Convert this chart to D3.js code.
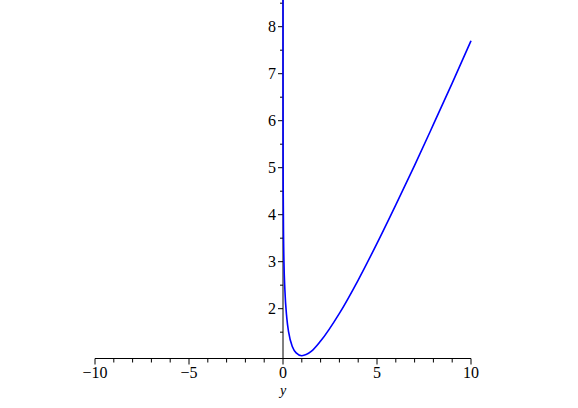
<!DOCTYPE html>
<html>
<head>
<meta charset="utf-8">
<script src="https://cdn.jsdelivr.net/npm/d3@7"></script>
<style>
  body { margin: 0; background: #fff; }
  text { font-family: "Liberation Serif", "Times New Roman", serif; }
</style>
</head>
<body>
<svg id="chart" width="578" height="408"></svg>
<script>
// values
const xs = [0.0002, 0.001, 0.005, 0.01, 0.03, 0.05, 0.1, 0.2, 0.3, 0.5, 0.7, 1, 1.5, 2, 3, 4, 5, 6, 7, 8, 9, 10];
const ys = [8.6, 6.9, 5.3, 4.6, 3.5, 3.0, 2.4, 1.81, 1.50, 1.19, 1.06, 1.0, 1.09, 1.31, 1.90, 2.61, 3.39, 4.21, 5.05, 5.92, 6.80, 7.70];
const xTicks = [-10, -5, 0, 5, 10];
const yTicks = [2, 3, 4, 5, 6, 7, 8];
const xLabel = "y";

const points = xs.map((x, i) => ({x: x, y: ys[i]}));

const svg = d3.select("#chart");

const x = d3.scaleLinear().domain([-10, 10]).range([95, 471]);
const y = d3.scaleLinear().domain([0.94, 8.6]).range([358.5, -1.5]);

// x axis (ticks hanging below)
const xAxis = svg.append("g").attr("transform", "translate(0," + y(0.94) + ")");
xAxis.append("line").attr("x1", x(-10)).attr("x2", x(10)).attr("stroke", "#000");
xAxis.selectAll("line.minor")
  .data(d3.range(-10, 11, 1)).enter()
  .append("line").attr("class", "minor")
  .attr("x1", d => x(d)).attr("x2", d => x(d))
  .attr("y1", 0).attr("y2", d => d % 5 === 0 ? 6 : 4)
  .attr("stroke", "#000");
xAxis.selectAll("text")
  .data(xTicks).enter()
  .append("text")
  .attr("x", d => x(d)).attr("y", 19)
  .attr("text-anchor", "middle")
  .style("font-size", "16px")
  .text(d => d < 0 ? "\u2212" + Math.abs(d) : d);

svg.append("text")
  .attr("x", x(0)).attr("y", 395)
  .attr("text-anchor", "middle")
  .style("font-size", "14px")
  .style("font-style", "italic")
  .text(xLabel);

// y axis (ticks pointing left)
const yAxis = svg.append("g").attr("transform", "translate(" + x(0) + ",0)");
yAxis.append("line").attr("y1", 0).attr("y2", y(0.94)).attr("stroke", "#000");
yAxis.selectAll("line.minor")
  .data(d3.range(1.5, 8.6, 0.5)).enter()
  .append("line").attr("class", "minor")
  .attr("y1", d => y(d)).attr("y2", d => y(d))
  .attr("x1", 0).attr("x2", d => Number.isInteger(d) ? -5 : -3)
  .attr("stroke", "#000");
yAxis.selectAll("text")
  .data(yTicks).enter()
  .append("text")
  .attr("x", -7).attr("y", d => y(d) + 5.5)
  .attr("text-anchor", "end")
  .style("font-size", "16px")
  .text(d => d);

// curve
const line = d3.line()
  .x(d => x(d.x))
  .y(d => y(d.y))
  .curve(d3.curveMonotoneX);

svg.append("path")
  .datum(points)
  .attr("d", line)
  .attr("fill", "none")
  .attr("stroke", "#0000ff")
  .attr("stroke-width", 1.6);
</script>
</body>
</html>
